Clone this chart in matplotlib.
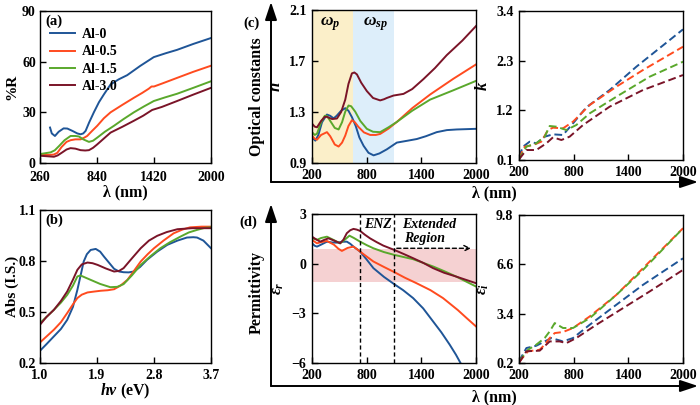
import matplotlib
matplotlib.use("Agg")
import matplotlib.pyplot as plt
from matplotlib.patches import FancyArrowPatch

plt.rcParams['font.family'] = ['Liberation Serif', 'DejaVu Serif']
plt.rcParams['font.weight'] = 'bold'
plt.rcParams['mathtext.fontset'] = 'custom'
plt.rcParams['mathtext.rm'] = 'Liberation Serif:bold'
plt.rcParams['mathtext.it'] = 'Liberation Serif:italic:bold'
plt.rcParams['mathtext.bf'] = 'Liberation Serif:bold'
plt.rcParams['axes.unicode_minus'] = True

names = ['Al-0', 'Al-0.5', 'Al-1.5', 'Al-3.0']
colors = ['#1f5597', '#ff4b1f', '#5aa82c', '#7a1428']

# ---------------------
# (a) reflectance (%R vs wavelength)
# ---------------------
a_x = [
    [362, 380, 412, 450, 500, 538, 590, 640, 673, 700, 724, 760, 808, 860, 910, 978, 1060, 1147, 1280, 1418, 1540, 1655, 1820, 2000],
    [260, 360, 400, 436, 480, 530, 571, 620, 673, 710, 740, 790, 842, 910, 978, 1100, 1215, 1300, 1367, 1395, 1420, 1500, 1655, 1820, 2000],
    [260, 368, 410, 453, 510, 571, 620, 656, 700, 758, 800, 842, 920, 1012, 1110, 1215, 1318, 1418, 1530, 1655, 1820, 2000],
    [260, 402, 440, 487, 530, 571, 620, 673, 720, 758, 800, 842, 910, 978, 1100, 1215, 1310, 1401, 1500, 1655, 1820, 2000],
]
a_y = [
    [21, 17.5, 16, 18.5, 20.5, 20.4, 19, 17.5, 17, 17.5, 19, 24, 30, 36, 40.6, 46.5, 49.5, 52, 57.5, 62.7, 65, 67, 70.5, 74],
    [4.7, 4.8, 5, 6, 9.5, 12.5, 13.5, 14, 14, 15, 16, 19, 22, 26.5, 30, 34.5, 38.6, 41.5, 44, 45.3, 45.3, 47, 50.4, 54, 57.6],
    [5.3, 6.3, 7.5, 10, 13.5, 16, 16, 15.7, 14, 12.5, 13.2, 15, 18.5, 22, 26, 30, 33.5, 36.7, 38.8, 41, 44.5, 48.4],
    [4.3, 3.7, 4.5, 6.3, 8, 8.8, 8.5, 7.6, 7.4, 7.6, 9, 11, 14.5, 18, 21.5, 25, 28, 31.4, 33.2, 36.7, 40.5, 44.5],
]

# ---------------------
# (b) absorbance vs photon energy
# ---------------------
b_x = [
    [1.0, 1.1, 1.22, 1.33, 1.43, 1.52, 1.59, 1.65, 1.69, 1.74, 1.80, 1.88, 1.95, 2.01, 2.09, 2.17, 2.25, 2.32, 2.40, 2.48, 2.58, 2.69, 2.85, 3.01, 3.17, 3.32, 3.42, 3.48, 3.58, 3.7],
    [1.0, 1.1, 1.22, 1.33, 1.43, 1.52, 1.59, 1.66, 1.75, 1.85, 1.96, 2.07, 2.17, 2.27, 2.38, 2.48, 2.59, 2.70, 2.80, 2.95, 3.11, 3.25, 3.37, 3.55, 3.7],
    [1.0, 1.1, 1.22, 1.33, 1.43, 1.52, 1.59, 1.64, 1.70, 1.80, 1.95, 2.11, 2.22, 2.32, 2.45, 2.59, 2.75, 2.90, 3.05, 3.22, 3.35, 3.48, 3.6, 3.7],
    [1.0, 1.1, 1.22, 1.33, 1.43, 1.52, 1.59, 1.66, 1.75, 1.83, 1.91, 2.04, 2.17, 2.25, 2.32, 2.45, 2.59, 2.72, 2.85, 3.0, 3.17, 3.4, 3.7],
]
b_y = [
    [0.272, 0.31, 0.357, 0.40, 0.454, 0.53, 0.63, 0.73, 0.797, 0.84, 0.865, 0.871, 0.855, 0.826, 0.79, 0.754, 0.738, 0.734, 0.733, 0.738, 0.765, 0.807, 0.855, 0.895, 0.92, 0.938, 0.94, 0.938, 0.92, 0.875],
    [0.321, 0.355, 0.396, 0.44, 0.494, 0.545, 0.582, 0.602, 0.615, 0.62, 0.625, 0.628, 0.634, 0.655, 0.689, 0.74, 0.797, 0.84, 0.875, 0.92, 0.963, 0.985, 0.998, 1.002, 1.002],
    [0.435, 0.47, 0.513, 0.555, 0.601, 0.655, 0.709, 0.715, 0.705, 0.689, 0.665, 0.646, 0.648, 0.664, 0.715, 0.777, 0.83, 0.875, 0.91, 0.944, 0.968, 0.983, 0.995, 0.998],
    [0.425, 0.47, 0.513, 0.565, 0.621, 0.69, 0.748, 0.78, 0.791, 0.787, 0.777, 0.756, 0.738, 0.742, 0.758, 0.815, 0.875, 0.92, 0.948, 0.97, 0.987, 0.993, 0.993],
]

# ---------------------
# (c) refractive index n and extinction k
# ---------------------
n_x = [
    [200, 237, 270, 310, 364, 400, 438, 470, 520, 565, 600, 638, 680, 720, 766, 820, 876, 940, 1021, 1131, 1250, 1350, 1450, 1569, 1680, 1788, 2000],
    [200, 230, 255, 300, 364, 400, 450, 492, 530, 565, 600, 638, 670, 711, 770, 839, 900, 948, 1040, 1131, 1300, 1496, 1750, 2000],
    [200, 230, 255, 300, 340, 364, 400, 450, 492, 530, 565, 601, 630, 674, 730, 802, 870, 948, 1040, 1131, 1300, 1496, 1750, 2000],
    [200, 230, 255, 300, 340, 364, 420, 474, 520, 565, 600, 638, 665, 693, 740, 802, 870, 948, 990, 1021, 1094, 1204, 1300, 1423, 1550, 1679, 1850, 2000],
]
n_y = [
    [1.10, 1.075, 1.12, 1.22, 1.28, 1.27, 1.25, 1.27, 1.31, 1.33, 1.31, 1.26, 1.19, 1.10, 1.035, 0.98, 0.96, 0.975, 1.007, 1.06, 1.075, 1.088, 1.11, 1.142, 1.158, 1.163, 1.168],
    [1.115, 1.09, 1.083, 1.12, 1.142, 1.11, 1.045, 1.029, 1.06, 1.115, 1.19, 1.236, 1.22, 1.182, 1.14, 1.12, 1.12, 1.128, 1.17, 1.222, 1.33, 1.437, 1.56, 1.673],
    [1.142, 1.12, 1.13, 1.22, 1.27, 1.27, 1.23, 1.175, 1.163, 1.22, 1.303, 1.351, 1.345, 1.303, 1.23, 1.168, 1.145, 1.142, 1.18, 1.222, 1.31, 1.397, 1.47, 1.544],
    [1.209, 1.185, 1.18, 1.23, 1.262, 1.262, 1.245, 1.249, 1.30, 1.397, 1.52, 1.603, 1.61, 1.595, 1.53, 1.464, 1.41, 1.391, 1.40, 1.41, 1.429, 1.442, 1.48, 1.558, 1.645, 1.746, 1.86, 1.974],
]
k_x = [
    [200, 244, 317, 390, 482, 573, 683, 793, 939, 1195, 1488, 2000],
    [200, 262, 354, 445, 518, 573, 683, 793, 976, 1269, 1561, 2000],
    [200, 281, 390, 482, 537, 610, 720, 829, 976, 1269, 1634, 2000],
    [200, 281, 390, 500, 573, 665, 756, 903, 1195, 1561, 2000],
]
k_y = [
    [0.174, 0.395, 0.506, 0.469, 0.617, 0.668, 0.654, 0.912, 1.266, 1.65, 2.166, 2.993],
    [0.137, 0.395, 0.432, 0.506, 0.764, 0.816, 0.801, 0.949, 1.318, 1.724, 2.093, 2.609],
    [0.115, 0.395, 0.469, 0.617, 0.853, 0.838, 0.764, 0.875, 1.133, 1.502, 1.945, 2.277],
    [0.115, 0.321, 0.321, 0.469, 0.602, 0.543, 0.617, 0.875, 1.281, 1.65, 1.982],
]

# ---------------------
# (d) real and imaginary permittivity
# ---------------------
er_x = [
    [200, 230, 255, 300, 364, 420, 473, 530, 582, 620, 655, 700, 728, 800, 874, 990, 1103, 1200, 1310, 1420, 1529, 1620, 1711, 1780, 1840, 1900],
    [200, 255, 300, 364, 440, 490, 528, 590, 655, 700, 728, 800, 874, 990, 1103, 1220, 1347, 1500, 1638, 1800, 1900, 2000],
    [200, 260, 300, 364, 430, 509, 560, 611, 660, 728, 800, 874, 990, 1103, 1310, 1529, 1650, 1783, 2000],
    [200, 250, 291, 340, 382, 440, 509, 545, 582, 620, 655, 690, 728, 780, 837, 910, 983, 1103, 1200, 1310, 1420, 1529, 1650, 1783, 2000],
]
er_y = [
    [1.23, 1.08, 1.03, 1.15, 1.33, 1.28, 1.27, 1.32, 1.33, 1.2, 1.03, 0.85, 0.73, 0.25, -0.27, -0.8, -1.24, -1.6, -2.08, -2.7, -3.49, -4.15, -4.89, -5.5, -6.1, -6.7],
    [1.43, 1.23, 1.3, 1.37, 1.15, 0.9, 0.77, 0.95, 1.03, 0.85, 0.73, 0.43, 0.13, -0.2, -0.51, -0.85, -1.18, -1.6, -2.08, -2.8, -3.3, -3.79],
    [1.53, 1.45, 1.55, 1.63, 1.45, 1.23, 1.45, 1.69, 1.55, 1.33, 1.12, 0.93, 0.7, 0.53, 0.27, -0.17, -0.45, -0.78, -1.38],
    [1.63, 1.45, 1.33, 1.45, 1.53, 1.4, 1.23, 1.45, 1.84, 2.02, 2.1, 2.06, 1.98, 1.75, 1.53, 1.3, 1.09, 0.83, 0.6, 0.33, 0.05, -0.27, -0.55, -0.78, -1.18],
]
ei_x = [
    [200, 281, 390, 482, 555, 683, 793, 976, 1269, 1561, 2000],
    [200, 299, 427, 482, 537, 592, 683, 793, 976, 1269, 1561, 2000],
    [200, 299, 390, 482, 537, 592, 683, 793, 976, 1269, 1561, 2000],
    [200, 281, 427, 537, 646, 720, 829, 1049, 1342, 1634, 2000],
]
ei_y = [
    [0.31, 1.17, 1.32, 1.6, 1.82, 1.6, 1.82, 2.68, 3.98, 5.27, 6.99],
    [0.26, 0.96, 1.06, 1.39, 1.82, 2.14, 2.21, 2.47, 3.22, 4.62, 6.35, 8.94],
    [0.31, 1.06, 1.39, 1.82, 2.25, 2.79, 2.47, 2.47, 3.11, 4.62, 6.24, 8.94],
    [0.2, 0.96, 1.0, 1.6, 1.6, 1.49, 1.82, 2.68, 3.76, 4.84, 6.24],
]

W, H = 700, 405
fig = plt.figure(figsize=(W / 100, H / 100), dpi=100)


def px_axes(x0, y0, x1, y1, ypad=4, xpad=4.5):
    ax = fig.add_axes([x0 / W, 1 - y1 / H, (x1 - x0) / W, (y1 - y0) / H])
    ax.tick_params(direction='in', length=4, width=1)
    ax.tick_params(axis='x', pad=xpad)
    ax.tick_params(axis='y', pad=ypad)
    for s in ax.spines.values():
        s.set_linewidth(1)
    return ax


def fix_ticks(ax, xt, yt, xl=None, yl=None):
    ax.set_xticks(xt)
    ax.set_yticks(yt)
    if xl is not None:
        ax.set_xticklabels(xl)
    if yl is not None:
        ax.set_yticklabels(yl)
    for lab in ax.get_xticklabels() + ax.get_yticklabels():
        lab.set_fontweight('bold')
        lab.set_fontsize(10)


lw = 1.4
dash = (0, (4, 2))

# (a)
ax = px_axes(40, 11, 211, 163, ypad=3, xpad=6)
for i in range(4):
    ax.plot(a_x[i], a_y[i], color=colors[i], lw=lw, label=names[i])
ax.set_xlim(260, 2000)
ax.set_ylim(0, 90)
fix_ticks(ax, [260, 840, 1420, 2000], [0, 30, 60, 90])
ax.set_xlabel('λ (nm)', fontsize=11.5, fontweight='bold', labelpad=0)
ax.set_ylabel('%R', fontsize=11, fontweight='bold')
ax.yaxis.set_label_coords(-0.125, 0.5)
ax.text(0.03, 0.93, '(a)', transform=ax.transAxes, fontsize=10.5, fontweight='bold', va='center')
ax.legend(loc='upper left', bbox_to_anchor=(0.0, 0.95), frameon=False,
          handlelength=1.8, handletextpad=0.5, labelspacing=0.3, borderpad=0.2,
          prop={'weight': 'bold', 'size': 10})

# (b)
ax = px_axes(40, 210, 211, 363, ypad=3)
for i in range(4):
    ax.plot(b_x[i], b_y[i], color=colors[i], lw=lw)
ax.set_xlim(1.0, 3.7)
ax.set_ylim(0.2, 1.1)
fix_ticks(ax, [1.0, 1.9, 2.8, 3.7], [0.2, 0.5, 0.8, 1.1],
          ['1.0', '1.9', '2.8', '3.7'], ['0.2', '0.5', '0.8', '1.1'])
ax.set_xlabel('$hv$ (eV)', fontsize=11.5, fontweight='bold', labelpad=0)
ax.set_ylabel('Abs (I.S.)', fontsize=11, fontweight='bold')
ax.yaxis.set_label_coords(-0.125, 0.5)
ax.text(0.03, 0.93, '(b)', transform=ax.transAxes, fontsize=10.5, fontweight='bold', va='center')

wl_ticks = [200, 800, 1400, 2000]

# (c) n
ax = px_axes(312, 10, 476, 163)
ax.axvspan(200, 650, color='#fbefc9', lw=0)
ax.axvspan(650, 1100, color='#ddeefa', lw=0)
for i in range(4):
    ax.plot(n_x[i], n_y[i], color=colors[i], lw=lw)
ax.set_xlim(200, 2000)
ax.set_ylim(0.9, 2.1)
fix_ticks(ax, wl_ticks, [0.9, 1.3, 1.7, 2.1], None, ['0.9', '1.3', '1.7', '2.1'])
ax.set_ylabel('$n$', fontsize=12, labelpad=4)
ax.text(400, 1.99, r'$\omega_p$', fontsize=12.5, ha='center', va='center')
ax.text(900, 1.99, r'$\omega_{sp}$', fontsize=12.5, ha='center', va='center')

# k
ax = px_axes(519, 11, 683, 160)
for i in range(4):
    ax.plot(k_x[i], k_y[i], color=colors[i], lw=lw, ls=dash)
ax.set_xlim(200, 2000)
ax.set_ylim(0.1, 3.4)
fix_ticks(ax, wl_ticks, [0.1, 1.2, 2.3, 3.4], None, ['0.1', '1.2', '2.3', '3.4'])
ax.set_ylabel('$k$', fontsize=12, labelpad=4)

# (d) eps_r
ax = px_axes(312, 214, 476, 363)
ax.axhspan(-1.12, 0.87, color='#f2c2c4', alpha=0.75, lw=0)
for i in range(4):
    ax.plot(er_x[i], er_y[i], color=colors[i], lw=lw)
ax.axvline(730, color='black', lw=1, ls=(0, (3, 2)))
ax.axvline(1100, color='black', lw=1, ls=(0, (3, 2)))
ax.annotate('', xy=(1975, 0.93), xytext=(1100, 0.93),
            arrowprops=dict(arrowstyle='->', color='black', lw=1, ls=(0, (3, 2))))
ax.text(920, 2.35, 'ENZ', fontsize=10, fontstyle='italic', ha='center', va='center')
ax.text(1190, 2.35, 'Extended', fontsize=10, fontstyle='italic', ha='left', va='center')
ax.text(1210, 1.55, 'Region', fontsize=10, fontstyle='italic', ha='left', va='center')
ax.set_xlim(200, 2000)
ax.set_ylim(-6, 3)
fix_ticks(ax, wl_ticks, [-6, -3, 0, 3])
ax.set_ylabel(r'$\varepsilon_r$', fontsize=12, labelpad=4)

# eps_i
ax = px_axes(519, 215, 683, 363)
for i in range(4):
    ax.plot(ei_x[i], ei_y[i], color=colors[i], lw=lw, ls=dash)
ax.set_xlim(200, 2000)
ax.set_ylim(0.2, 9.8)
fix_ticks(ax, wl_ticks, [0.2, 3.4, 6.6, 9.8], None, ['0.2', '3.4', '6.6', '9.8'])
ax.set_ylabel(r'$\varepsilon_i$', fontsize=12, labelpad=4)


# big axis arrows drawn on the figure
def fpt(x, y):
    return (x / W, 1 - y / H)


for y0, ytop, lab_y in [(182, 2, 193), (386, 204, 397)]:
    for end in [(271, ytop), (698, y0)]:
        fig.patches.append(FancyArrowPatch(fpt(271, y0), fpt(*end), transform=fig.transFigure,
                                           arrowstyle='-|>,head_length=0.9,head_width=0.3',
                                           mutation_scale=12, lw=1.4, color='black',
                                           shrinkA=0, shrinkB=0))
    fig.text(494 / W, 1 - lab_y / H, 'λ (nm)', fontsize=11.5, fontweight='bold',
             ha='center', va='center')

fig.text(257 / W, 1 - 97 / H, 'Optical constants', fontsize=11.5, fontweight='bold',
         rotation=90, ha='center', va='center')
fig.text(257 / W, 1 - 292 / H, 'Permittivity', fontsize=11.5, fontweight='bold',
         rotation=90, ha='center', va='center')
fig.text(251 / W, 1 - 23 / H, '(c)', fontsize=10.5, fontweight='bold', ha='center', va='center')
fig.text(248 / W, 1 - 222 / H, '(d)', fontsize=10.5, fontweight='bold', ha='center', va='center')

fig.savefig('out.png', dpi=100)
